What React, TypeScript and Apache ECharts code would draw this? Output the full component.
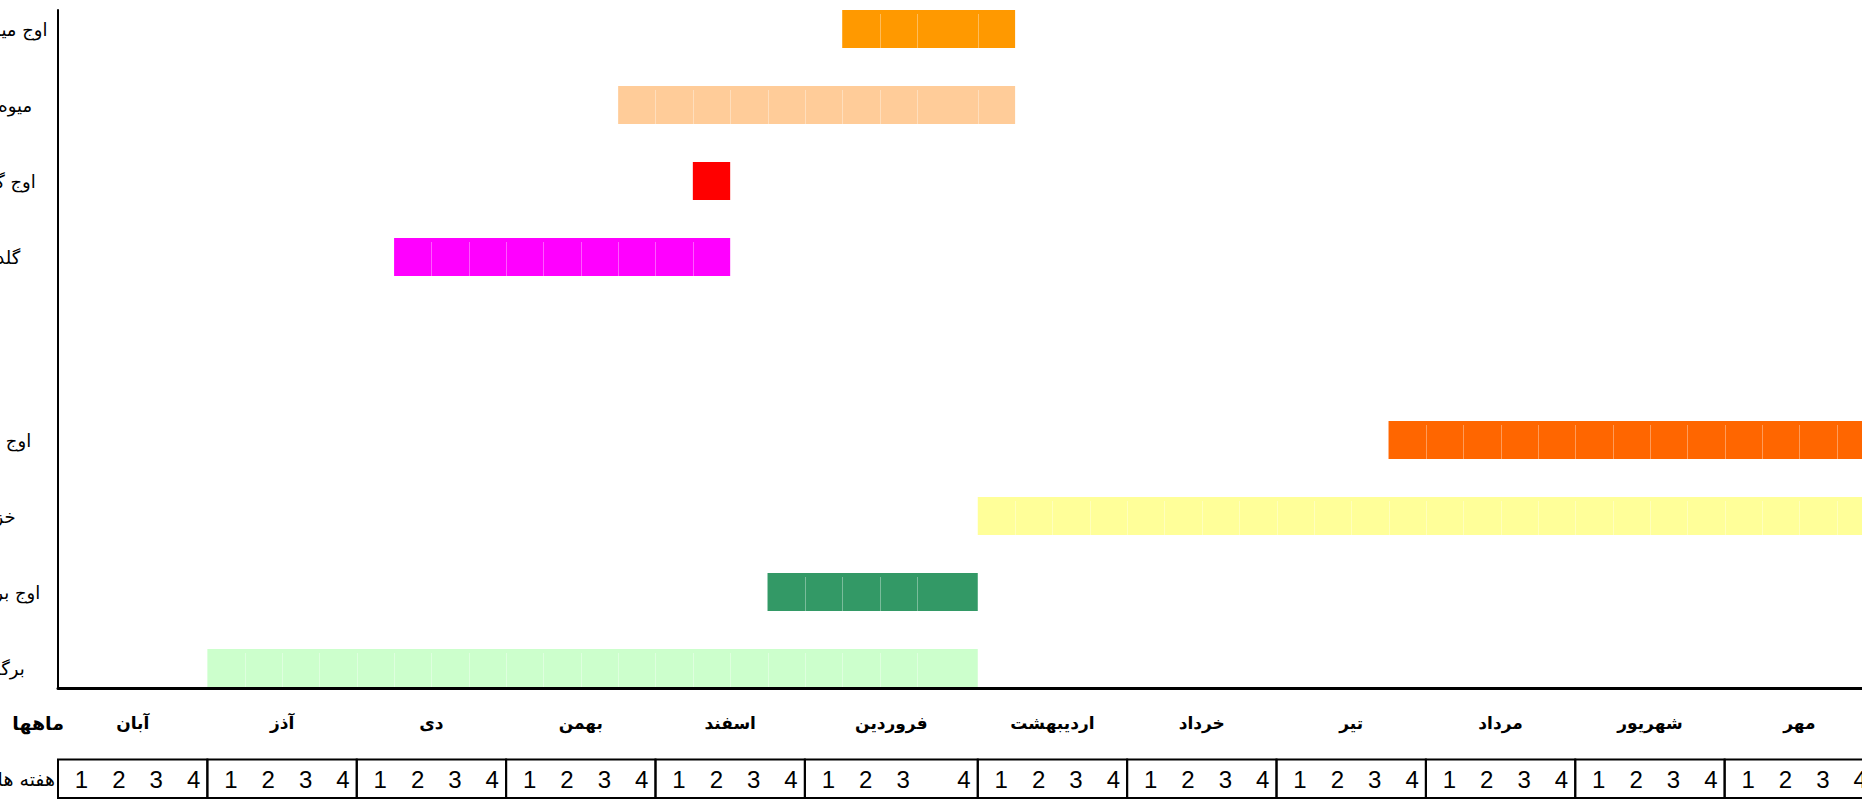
import React, { useEffect, useRef } from "react";
import * as echarts from "echarts";

// ---- data ----
const months = ["آبان", "آذز", "دی", "بهمن", "اسفند", "فروردین", "اردیبهشت", "خرداد", "تیر", "مرداد", "شهریور", "مهر"];
const weekNames = ["1", "2", "3", "4"];
// relative width of each week column per month (4th week of فروردین is wider)
const monthWeekWidths = [
  [1, 1, 1, 1], [1, 1, 1, 1], [1, 1, 1, 1], [1, 1, 1, 1],
  [1, 1, 1, 1], [1, 1, 1, 1.63], [1, 1, 1, 1], [1, 1, 1, 1],
  [1, 1, 1, 1], [1, 1, 1, 1], [1, 1, 1, 1], [1, 1, 1, 1],
];
const monthsTitle = "ماهها";
const weeksTitle = "هفته ها";

// upper group of phases (top to bottom); week index 0 = week 1 of آبان, end inclusive
const topPhases = ["اوج میوه دهی", "میوه دهی", "اوج گلدهی", "گلدهی"];
const topStartWeek = [21, 15, 17, 9];
const topEndWeek = [24, 24, 17, 17];
const topColors = ["#FF9900", "#FFCC99", "#FF0000", "#FF00FF"];

// lower group of phases (top to bottom)
const bottomPhases = ["اوج خزان", "خزان", "اوج برگدهی", "برگدهی"];
const bottomStartWeek = [35, 24, 19, 4];
const bottomEndWeek = [47, 47, 23, 23];
const bottomColors = ["#FF6600", "#FFFF99", "#339966", "#CCFFCC"];

// ---- derived scale helpers ----
const weekWidths: number[] = monthWeekWidths.flat();
const edges: number[] = [0];
weekWidths.forEach((w, i) => edges.push(edges[i] + w));
const total = edges[edges.length - 1];

const LEFT = 58;
const RIGHT = -12;

function phaseData(starts: number[], ends: number[], colors: string[]) {
  return starts.map((s, i) => ({
    value: [i, edges[s], edges[ends[i] + 1], s, ends[i]],
    itemStyle: { color: colors[i] },
  }));
}

function ganttRender(params: any, api: any) {
  const row = api.value(0);
  const sw = api.value(3);
  const ew = api.value(4);
  const band = api.size([0, 1])[1];
  const h = band * 0.5;
  const color = api.visual("color");
  const a = api.coord([edges[sw], row]);
  const b = api.coord([edges[ew + 1], row]);
  const top = a[1] - h / 2;
  const children: any[] = [
    { type: "rect", shape: { x: a[0], y: top, width: b[0] - a[0], height: h }, style: { fill: color } },
  ];
  for (let w = sw + 1; w <= ew; w++) {
    const p = api.coord([edges[w], row]);
    const x = Math.round(p[0]) + 0.5;
    children.push({
      type: "line",
      shape: { x1: x, y1: top + 4, x2: x, y2: top + h },
      style: { stroke: "rgba(255,255,255,0.35)", lineWidth: 1 },
    });
  }
  return { type: "group", children };
}

const persianFont = "'DejaVu Sans', 'Noto Sans', sans-serif";

export default function App() {
  const ref = useRef<HTMLDivElement>(null);
  useEffect(() => {
    if (!ref.current) return;
    const chart = echarts.init(ref.current, undefined, { renderer: "svg" });
    const hiddenX = (gi: number) => ({
      type: "value", gridIndex: gi, min: 0, max: total, show: false,
    });
    const taskY = (gi: number, cats: string[]) => ({
      type: "category", gridIndex: gi, data: cats, inverse: true,
      axisLine: { show: false }, axisTick: { show: false }, splitLine: { show: false },
      axisLabel: {
        show: true, margin: 62, align: "center", color: "#000",
        fontFamily: persianFont, fontSize: 18,
      },
    });
    const g = (top: number, height: number) => ({
      left: LEFT, right: RIGHT, top, height, containLabel: false, outerBoundsMode: "none",
    });
    const option: any = {
      animation: false,
      backgroundColor: "#fff",
      grid: [g(10, 678), g(-9, 304), g(402, 304), g(700, 46), g(759.5, 38.5)],
      xAxis: [
        {
          type: "value", gridIndex: 0, min: 0, max: total,
          axisLine: { show: true, onZero: false, lineStyle: { color: "#000", width: 3 } },
          axisTick: { show: false }, axisLabel: { show: false }, splitLine: { show: false },
        },
        hiddenX(1), hiddenX(2), hiddenX(3), hiddenX(4),
      ],
      yAxis: [
        {
          type: "value", gridIndex: 0, min: 0, max: 1,
          axisLine: { show: true, onZero: false, lineStyle: { color: "#000", width: 2 } },
          axisTick: { show: false }, axisLabel: { show: false }, splitLine: { show: false },
        },
        taskY(1, topPhases),
        taskY(2, bottomPhases),
        {
          type: "category", gridIndex: 3, data: [monthsTitle],
          axisLine: { show: false }, axisTick: { show: false },
          axisLabel: { margin: -6, align: "right", color: "#000", fontFamily: persianFont, fontSize: 19, fontWeight: "bold" },
        },
        {
          type: "category", gridIndex: 4, data: [weeksTitle],
          axisLine: { show: false }, axisTick: { show: false },
          axisLabel: { margin: 3, align: "right", color: "#000", fontFamily: persianFont, fontSize: 19 },
        },
      ],
      series: [
        {
          type: "custom", xAxisIndex: 1, yAxisIndex: 1,
          renderItem: ganttRender, encode: { x: [1, 2], y: 0 },
          data: phaseData(topStartWeek, topEndWeek, topColors),
        },
        {
          type: "custom", xAxisIndex: 2, yAxisIndex: 2,
          renderItem: ganttRender, encode: { x: [1, 2], y: 0 },
          data: phaseData(bottomStartWeek, bottomEndWeek, bottomColors),
        },
        {
          type: "custom", xAxisIndex: 3, yAxisIndex: 3,
          encode: { x: [0, 1] },
          data: months.map((m, i) => [edges[i * 4], edges[i * 4 + 4], 0]),
          renderItem: (params: any, api: any) => {
            const a = api.coord([api.value(0), 0]);
            const b = api.coord([api.value(1), 0]);
            return {
              type: "text",
              style: {
                text: months[params.dataIndex], x: (a[0] + b[0]) / 2, y: a[1],
                fill: "#000", fontFamily: persianFont, fontSize: 17, fontWeight: "bold",
                align: "center", verticalAlign: "middle",
              },
            };
          },
        },
        {
          type: "custom", xAxisIndex: 4, yAxisIndex: 4,
          encode: { x: [0, 1] },
          data: months.map((m, i) => [edges[i * 4], edges[i * 4 + 4], 0]),
          renderItem: (params: any, api: any) => {
            const mi = params.dataIndex;
            const x0 = api.value(0);
            const x1 = api.value(1);
            const band = api.size([0, 1])[1];
            const c = api.coord([x0, 0]);
            const e = api.coord([x1, 0]);
            const top = c[1] - band / 2;
            const children: any[] = [
              {
                type: "rect",
                shape: { x: c[0], y: top, width: e[0] - c[0], height: band },
                style: { fill: "none", stroke: "#000", lineWidth: 2 },
              },
            ];
            weekNames.forEach((wn, k) => {
              const p = api.coord([edges[mi * 4 + k + 1] - 0.37, 0]);
              children.push({
                type: "text",
                style: {
                  text: wn, x: p[0], y: c[1] + 1, fill: "#000",
                  fontFamily: "'Liberation Sans', Arial, sans-serif", fontSize: 24,
                  align: "center", verticalAlign: "middle",
                },
              });
            });
            return { type: "group", children };
          },
        },
      ],
    };
    chart.setOption(option);
    return () => chart.dispose();
  }, []);
  return (
    <div
      ref={ref}
      style={{ position: "fixed", left: 0, top: 0, width: 1862, height: 799, background: "#fff" }}
    />
  );
}
